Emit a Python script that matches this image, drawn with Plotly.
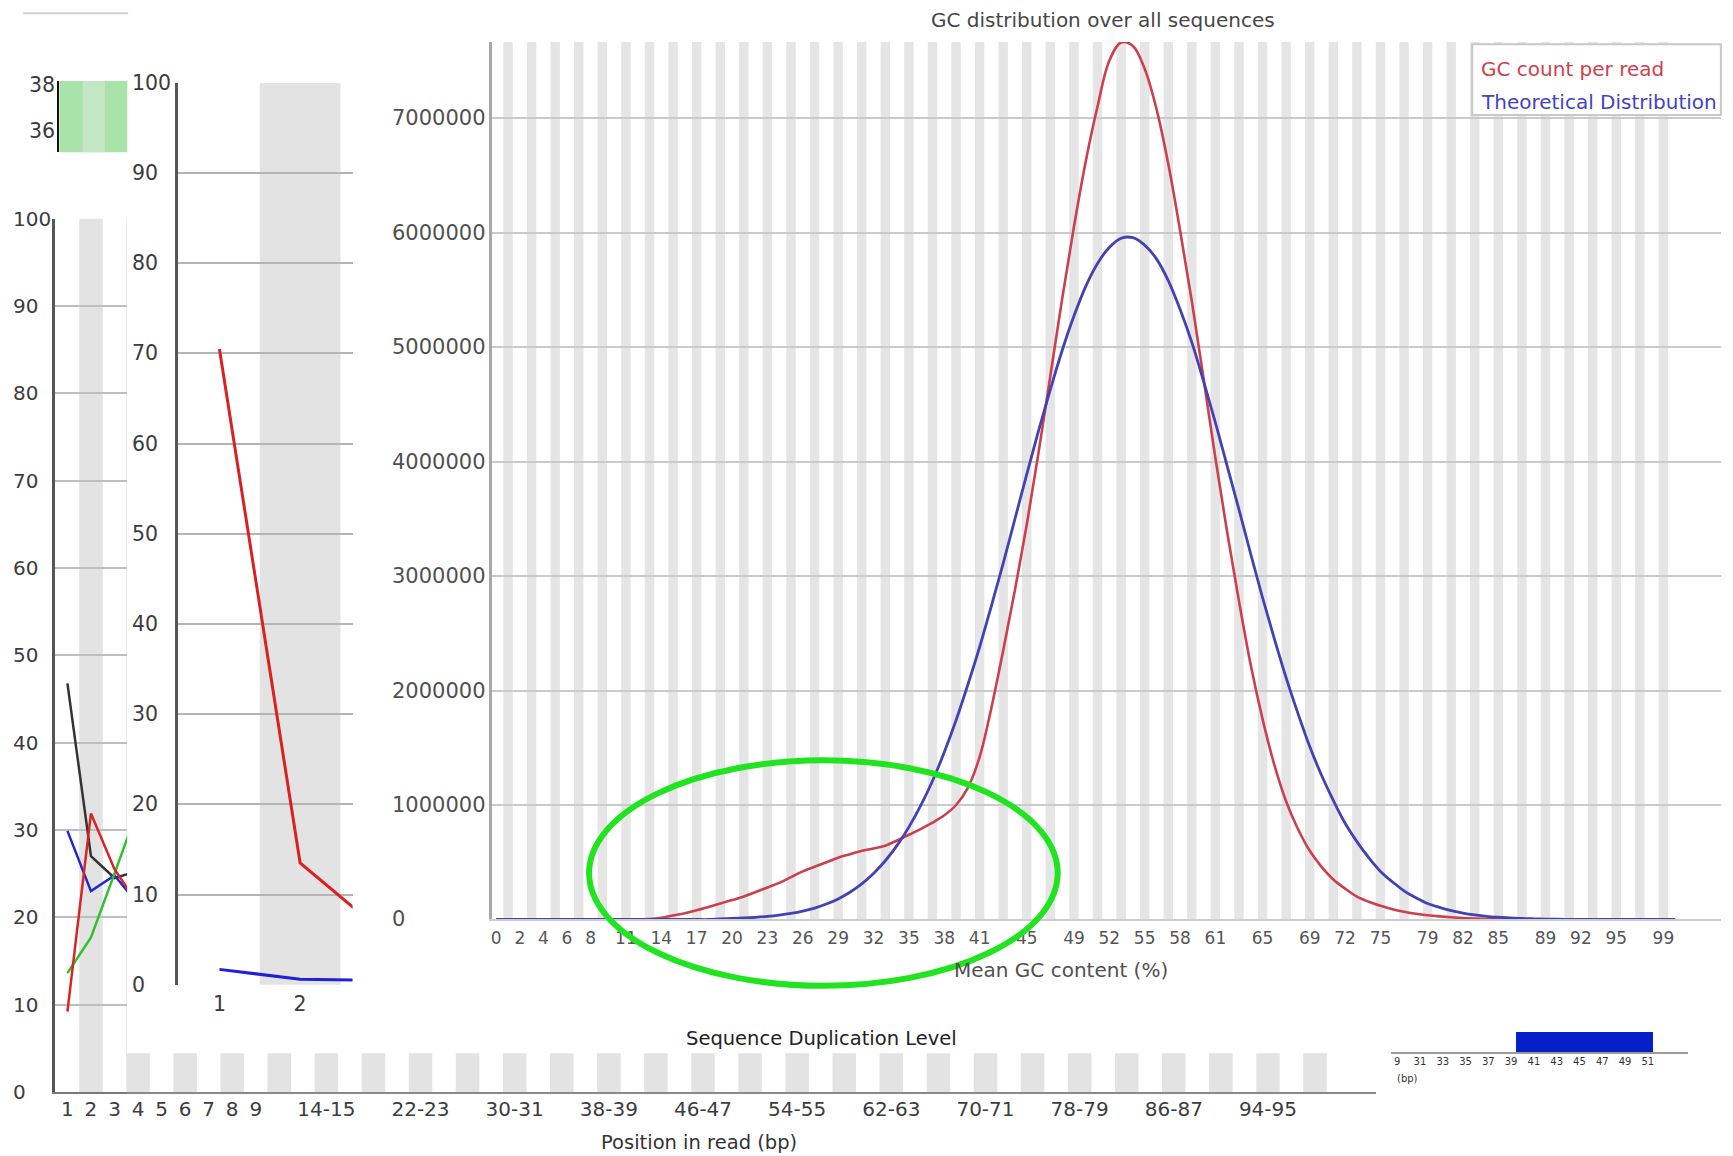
import plotly.graph_objects as go

# ---------------- layout grid of the reference (shown size) ----------------
W, H = 1733.0, 1156.0
SW, SH = 1568.0, 1046.0
PAGE_MARGIN = 8.0  # default body margin of the html page
def fx(x):
    return (x * W / SW - PAGE_MARGIN) / W
def fy(y):
    return 1 - (y * H / SH - PAGE_MARGIN) / H

FONT = "DejaVu Sans"

# ---------------- data ----------------
# Per-base sequence content (left, partly hidden)
base_pos = [1, 2, 3, 4]
base_g = [46.8, 27.0, 24.5, 25.3]
base_c = [29.9, 23.0, 24.8, 21.5]
base_a = [13.6, 17.7, 25.0, 32.5]
base_t = [9.2, 31.9, 25.5, 21.5]
n_pos_categories = 55
pos_tick_index = [1, 2, 3, 4, 5, 6, 7, 8, 9, 12, 16, 20, 24, 28, 32, 36, 40, 44, 48, 52]
pos_tick_labels = ["1", "2", "3", "4", "5", "6", "7", "8", "9", "14-15", "22-23", "30-31",
                   "38-39", "46-47", "54-55", "62-63", "70-71", "78-79", "86-87", "94-95"]
pct_ticks = [0, 10, 20, 30, 40, 50, 60, 70, 80, 90, 100]

# Middle chart (two series)
mid_pos = [1, 2, 3]
mid_red = [70.5, 13.5, 6.0]
mid_blue = [1.7, 0.6, 0.5]
mid_tick_labels = ["1", "2"]

# Quality strip (top-left)
qual_ticks = [36, 38]

# GC distribution (values in millions of reads)
gc_percent = list(range(0, 101))
gc_count = [0, 0, 0, 0, 0, 0, 0, 0, 0, 0, 0, 0, 0,
            0.004, 0.015, 0.035, 0.055, 0.08, 0.11, 0.14, 0.17, 0.2, 0.24, 0.28, 0.32,
            0.37, 0.42, 0.46, 0.5, 0.54, 0.57, 0.6, 0.62, 0.645, 0.69, 0.74, 0.79, 0.845,
            0.91, 1.0, 1.15, 1.42, 1.85, 2.35, 2.88, 3.45, 4.08, 4.75, 5.42, 6.05, 6.62,
            7.1, 7.5, 7.66, 7.63, 7.43, 7.08, 6.6, 6.02, 5.4, 4.72, 4.03, 3.38, 2.78,
            2.22, 1.75, 1.35, 1.03, 0.79, 0.6, 0.46, 0.35, 0.27, 0.2, 0.155, 0.12, 0.09,
            0.068, 0.05, 0.037, 0.027, 0.019, 0.013, 0.008, 0.005, 0.003, 0.002, 0.001,
            0, 0, 0, 0, 0, 0, 0, 0, 0, 0, 0, 0, 0]
gc_theory = [0, 0, 0, 0, 0, 0, 0, 0, 0, 0, 0, 0, 0, 0, 0, 0, 0, 0, 0,
             0.006, 0.009, 0.013, 0.019, 0.027, 0.038, 0.053, 0.073, 0.1, 0.135, 0.18,
             0.238, 0.311, 0.402, 0.513, 0.647, 0.807, 0.994, 1.21, 1.46, 1.74, 2.05,
             2.38, 2.74, 3.11, 3.5, 3.89, 4.27, 4.63, 4.97, 5.27, 5.53, 5.73, 5.87, 5.95,
             5.955, 5.89, 5.77, 5.58, 5.33, 5.04, 4.7, 4.34, 3.96, 3.58, 3.19, 2.81, 2.45,
             2.11, 1.8, 1.51, 1.26, 1.04, 0.84, 0.68, 0.54, 0.42, 0.33, 0.25, 0.19, 0.14,
             0.106, 0.078, 0.056, 0.04, 0.028, 0.02, 0.014, 0.009, 0.006, 0.004, 0.002,
             0.001, 0, 0, 0, 0, 0, 0, 0, 0, 0]
gc_tick_vals = [0, 2, 4, 6, 8, 11, 14, 17, 20, 23, 26, 29, 32, 35, 38, 41, 45, 49, 52,
                55, 58, 61, 65, 69, 72, 75, 79, 82, 85, 89, 92, 95, 99]
gc_ytick_vals = [0, 1, 2, 3, 4, 5, 6, 7]
gc_ytick_text = ["0", "1000000", "2000000", "3000000", "4000000", "5000000", "6000000", "7000000"]

# Sequence length strip (bottom-right)
len_bins = [40, 41, 42, 43, 44, 45, 46, 47, 48, 49, 50, 51]
len_counts = [1.0, 1.0, 1.0, 1.0, 1.0, 1.0, 1.0, 1.0, 1.0, 1.0, 1.0, 1.0]
len_tick_vals = [29, 31, 33, 35, 37, 39, 41, 43, 45, 47, 49, 51]
len_tick_text = ["9", "31", "33", "35", "37", "39", "41", "43", "45", "47", "49", "51"]

# ---------------- figure ----------------
fig = go.Figure()

# left per-base chart
for vals, col in [(base_g, "#333333"), (base_c, "#2626D6"), (base_a, "#2EC12E"), (base_t, "#DA2424")]:
    fig.add_trace(go.Scatter(x=base_pos, y=vals, mode="lines", line=dict(color=col, width=2.5),
                             xaxis="x", yaxis="y", showlegend=False, hoverinfo="skip"))
# middle chart
fig.add_trace(go.Scatter(x=mid_pos, y=mid_red, mode="lines", line=dict(color="#DA2020", width=3),
                         xaxis="x3", yaxis="y3", showlegend=False))
fig.add_trace(go.Scatter(x=mid_pos, y=mid_blue, mode="lines", line=dict(color="#2020D8", width=3),
                         xaxis="x3", yaxis="y3", showlegend=False))
# GC chart
fig.add_trace(go.Scatter(x=gc_percent, y=gc_count, mode="lines", line=dict(color="#CC3F4C", width=2.6, shape="spline"),
                         xaxis="x5", yaxis="y5", showlegend=False))
fig.add_trace(go.Scatter(x=gc_percent, y=gc_theory, mode="lines", line=dict(color="#4242B4", width=2.8, shape="spline"),
                         xaxis="x5", yaxis="y5", showlegend=False))
# bar strip
fig.add_trace(go.Bar(x=len_bins, y=len_counts, marker=dict(color="#0520C8", line=dict(width=0)),
                     width=1.0, xaxis="x6", yaxis="y6", showlegend=False))

shapes = []
# stripes in per-base chart (even categories grey)
for k in range(2, n_pos_categories + 1, 2):
    for xr, yr in (("x", "y domain"), ("x2", "y2 domain")):
        shapes.append(dict(type="rect", xref=xr, yref=yr, x0=k - 0.5, x1=k + 0.5, y0=0, y1=1,
                           fillcolor="#E3E3E3", line=dict(width=0), layer="below"))
# stripe in middle chart
for k in mid_pos:
    if k % 2 == 0:
        shapes.append(dict(type="rect", xref="x3", yref="y3 domain", x0=k - 0.5, x1=k + 0.5, y0=0, y1=1,
                           fillcolor="#E3E3E3", line=dict(width=0), layer="below"))
# green quality strip
shapes.append(dict(type="rect", xref="x4 domain", yref="y4 domain", x0=0, x1=1, y0=0, y1=1,
                   fillcolor="#AAE3AA", line=dict(width=0), layer="below"))
shapes.append(dict(type="rect", xref="x4", yref="y4 domain", x0=1.5, x1=2.5, y0=0, y1=1,
                   fillcolor="#C3E7C3", line=dict(width=0), layer="below"))
# stripes in GC chart (odd bins grey)
for k in gc_percent:
    if k % 2 == 1:
        shapes.append(dict(type="rect", xref="x5", yref="y5 domain", x0=k - 0.4, x1=k + 0.4, y0=0, y1=1,
                           fillcolor="#E5E5E5", line=dict(width=0), layer="below"))
# GC legend box
shapes.append(dict(type="rect", xref="paper", yref="paper", x0=fx(1332), x1=fx(1557), y0=fy(104), y1=fy(40),
                   fillcolor="white", line=dict(color="#C8C8C8", width=2), layer="above"))
# thin line top-left
shapes.append(dict(type="line", xref="paper", yref="paper", x0=fx(21), x1=fx(116), y0=fy(12), y1=fy(12),
                   line=dict(color="#CFCFCF", width=2)))
# green ellipse highlight
shapes.append(dict(type="circle", xref="paper", yref="paper", x0=fx(533), x1=fx(957), y0=fy(892), y1=fy(688),
                   line=dict(color="#1FE41F", width=6), fillcolor="rgba(0,0,0,0)", layer="above"))

annotations = []
def left_labels(vals, texts, yref, xs, size, color):
    for v, t in zip(vals, texts):
        annotations.append(dict(x=fx(xs), xref="paper", y=v, yref=yref, text=t, showarrow=False,
                                xanchor="left", yanchor="middle", font=dict(family=FONT, size=size, color=color)))

left_labels(pct_ticks, [str(v) for v in pct_ticks], "y", 10, 20, "#3C3C3C")
left_labels(pct_ticks, [str(v) for v in pct_ticks], "y3", 118, 20.5, "#3C3C3C")
left_labels(qual_ticks, [str(v) for v in qual_ticks], "y4", 24, 20.5, "#3C3C3C")
left_labels(gc_ytick_vals, gc_ytick_text, "y5", 353, 21, "#505050")

def text(x, y, t, size, color, anchor="center"):
    annotations.append(dict(x=fx(x), y=fy(y), xref="paper", yref="paper", text=t, showarrow=False,
                            xanchor=anchor, yanchor="middle", font=dict(family=FONT, size=size, color=color)))

text(998, 18, "GC distribution over all sequences", 20, "#474747")
text(1338, 62, "GC count per read", 20, "#D0404C", "left")
text(1338, 92, "Theoretical Distribution", 20, "#4343C4", "left")
text(960, 878, "Mean GC content (%)", 20, "#505050")
text(743, 940, "Sequence Duplication Level", 19.5, "#222222")
text(632, 1034, "Position in read (bp)", 19.5, "#333333")
text(1262, 976, "(bp)", 10, "#333333", "left")

axis_common = dict(zeroline=False, showgrid=False, ticks="")
fig.update_layout(
    width=int(W), height=int(H), margin=dict(l=0, r=0, t=0, b=0),
    paper_bgcolor="white", plot_bgcolor="rgba(0,0,0,0)", bargap=0,
    font=dict(family=FONT),
    # A: per-base visible part
    xaxis=dict(domain=[fx(50), fx(115)], range=[0.4836, 3.535], anchor="y",
               showline=True, linecolor="#7A7A7A", linewidth=2,
               tickvals=pos_tick_index, ticktext=pos_tick_labels,
               tickfont=dict(size=20, color="#3C3C3C"), ticklabelstandoff=-2, **axis_common),
    yaxis=dict(domain=[fy(988), fy(198)], range=[0, 100], anchor="x",
               showline=True, linecolor="#555555", linewidth=2.5, showgrid=True,
               gridcolor="#BEBEBE", gridwidth=1.5, dtick=10, showticklabels=False,
               zeroline=False, ticks=""),
    # B: bottom strip of per-base chart
    xaxis2=dict(domain=[fx(115), fx(1245)], range=[3.535, 56.59], anchor="y2",
                showline=True, linecolor="#8A8A8A", linewidth=2,
                tickvals=pos_tick_index, ticktext=pos_tick_labels,
                tickfont=dict(size=20, color="#3C3C3C"), ticklabelstandoff=-2, **axis_common),
    yaxis2=dict(domain=[fy(988), fy(953)], range=[0, 1], anchor="x2", visible=False),
    # C: middle chart
    xaxis3=dict(domain=[fx(161), fx(319)], range=[0.486, 2.65], anchor="y3",
                showline=False, tickvals=[1, 2], ticktext=mid_tick_labels,
                tickfont=dict(size=20.5, color="#3C3C3C"), ticklabelstandoff=5, **axis_common),
    yaxis3=dict(domain=[fy(891), fy(75)], range=[0, 100], anchor="x3",
                showline=True, linecolor="#555555", linewidth=2.5, showgrid=True,
                gridcolor="#B4B4B4", gridwidth=2, dtick=10, showticklabels=False,
                zeroline=False, ticks=""),
    # D: green quality strip
    xaxis4=dict(domain=[fx(53.7), fx(115.2)], range=[0.455, 3.5], anchor="y4", visible=False),
    yaxis4=dict(domain=[fy(137.8), fy(73.3)], range=[35.1, 38.18], anchor="x4",
                showline=True, linecolor="#111111", linewidth=2, showticklabels=False,
                showgrid=False, zeroline=False, ticks=""),
    # E: GC distribution
    xaxis5=dict(domain=[fx(445), fx(1557)], range=[-0.375, 103.87], anchor="y5",
                showline=True, linecolor="#CDCDCD", linewidth=2,
                tickvals=gc_tick_vals, ticktext=[str(v) for v in gc_tick_vals],
                tickfont=dict(size=17, color="#555555"), ticklabelstandoff=2, **axis_common),
    yaxis5=dict(domain=[fy(832), fy(38)], range=[0, 7.664], anchor="x5",
                showline=True, linecolor="#A8A8A8", linewidth=3, showgrid=True,
                gridcolor="#CACACA", gridwidth=2, tick0=0, dtick=1, showticklabels=False,
                zeroline=False, ticks=""),
    # F: length strip
    xaxis6=dict(domain=[fx(1259), fx(1527)], range=[28.5, 54.5], anchor="y6",
                showline=True, linecolor="#9A9A9A", linewidth=2,
                tickvals=len_tick_vals, ticktext=len_tick_text,
                tickfont=dict(size=10, color="#333333"), ticklabelstandoff=-1, **axis_common),
    yaxis6=dict(domain=[fy(952), fy(930)], range=[0, 1.2], anchor="x6", visible=False),
    shapes=shapes, annotations=annotations,
)

fig.write_html("out.html")
